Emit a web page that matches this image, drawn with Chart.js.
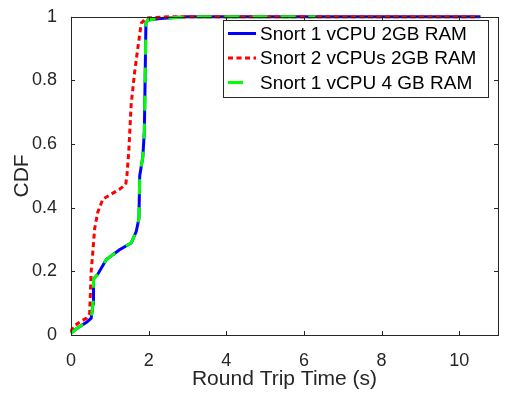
<!DOCTYPE html>
<html>
<head>
<meta charset="utf-8">
<script src="https://cdn.jsdelivr.net/npm/chart.js@4.4.0/dist/chart.umd.min.js"></script>
<style>
  html, body { margin: 0; padding: 0; background: #fff; }
  #wrap { width: 508px; height: 395px; }
</style>
</head>
<body>
<div id="wrap"><canvas id="chart" width="508" height="395"></canvas></div>
<script>
// valores (CDF do round trip time)
const blueX = [0, 0.14, 0.4, 0.52, 0.57, 0.58, 0.69, 0.91, 1.25, 1.55, 1.68, 1.75, 1.77, 1.85, 1.89, 1.93, 1.98, 2.3, 3, 10.55];
const blueY = [0.005, 0.02, 0.04, 0.053, 0.1, 0.176, 0.191, 0.237, 0.268, 0.289, 0.325, 0.366, 0.5, 0.56, 0.64, 0.98, 0.99, 0.995, 1, 1];

const redX = [0, 0.05, 0.22, 0.4, 0.48, 0.52, 0.55, 0.61, 0.69, 0.82, 1.04, 1.25, 1.41, 1.44, 1.49, 1.55, 1.64, 1.72, 1.81, 1.94, 2.5, 10.5];
const redY = [0.01, 0.025, 0.04, 0.053, 0.068, 0.2, 0.243, 0.335, 0.386, 0.427, 0.443, 0.458, 0.473, 0.5, 0.58, 0.725, 0.827, 0.9, 0.98, 0.996, 1, 1];

const greenX = [0, 0.14, 0.4, 0.52, 0.57, 0.58, 0.69, 0.91, 1.25, 1.55, 1.68, 1.75, 1.77, 1.85, 1.89, 1.93, 1.98, 2.3, 3, 6.3];
const greenY = [0.005, 0.02, 0.04, 0.053, 0.1, 0.176, 0.191, 0.237, 0.268, 0.289, 0.325, 0.366, 0.5, 0.56, 0.64, 0.98, 0.99, 0.995, 1, 1];

const labels = ["Snort 1 vCPU 2GB RAM", "Snort 2 vCPUs 2GB RAM", "Snort 1 vCPU 4 GB RAM"];
const xTicks = [0, 2, 4, 6, 8, 10];
const yTicks = [0, 0.2, 0.4, 0.6, 0.8, 1];

const axisColor = '#262626';
const fontFamily = '"Liberation Sans", Arial, sans-serif';

function toPoints(xs, ys) {
    return xs.map((x, i) => ({ x: x, y: ys[i] }));
}

// ticks para dentro, nos quatro lados (estilo matlab)
const innerTicks = {
    id: 'innerTicks',
    afterDraw(c) {
        const ctx = c.ctx;
        const a = c.chartArea;
        const xs = c.scales.x, ys = c.scales.y;
        const len = 4;
        ctx.save();
        ctx.strokeStyle = axisColor;
        ctx.lineWidth = 1;
        ctx.beginPath();
        xTicks.forEach(v => {
            const px = Math.round(xs.getPixelForValue(v)) + 0.5;
            ctx.moveTo(px, a.bottom); ctx.lineTo(px, a.bottom - len);
            ctx.moveTo(px, a.top); ctx.lineTo(px, a.top + len);
        });
        yTicks.forEach(v => {
            const py = Math.round(ys.getPixelForValue(v)) + 0.5;
            ctx.moveTo(a.left, py); ctx.lineTo(a.left + len, py);
            ctx.moveTo(a.right, py); ctx.lineTo(a.right - len, py);
        });
        ctx.stroke();
        ctx.strokeRect(Math.round(a.left) + 0.5, Math.round(a.top) + 0.5, Math.round(a.right - a.left), Math.round(a.bottom - a.top));
        ctx.restore();
    }
};

// legenda dentro do gráfico, com caixa
const boxLegend = {
    id: 'boxLegend',
    afterDraw(c) {
        const ctx = c.ctx;
        const bx = 223.5, by = 20.5, bw = 265, bh = 77;
        ctx.save();
        ctx.fillStyle = '#fff';
        ctx.fillRect(bx, by, bw, bh);
        ctx.strokeStyle = axisColor;
        ctx.lineWidth = 1;
        ctx.strokeRect(bx, by, bw, bh);
        ctx.font = '19px ' + fontFamily;
        ctx.textBaseline = 'middle';
        c.data.datasets.forEach((ds, i) => {
            const y = 33.5 + i * 24.5;
            ctx.strokeStyle = ds.borderColor;
            ctx.lineWidth = ds.borderWidth;
            ctx.setLineDash(ds.borderDash || []);
            ctx.beginPath();
            ctx.moveTo(228, y);
            ctx.lineTo(256, y);
            ctx.stroke();
            ctx.setLineDash([]);
            ctx.fillStyle = '#000';
            ctx.fillText(ds.label, 260, y + 1);
        });
        ctx.restore();
    }
};

const ctx = document.getElementById('chart').getContext('2d');
const chart = new Chart(ctx, {
    type: 'line',
    data: {
        datasets: [{
            label: labels[0],
            data: toPoints(blueX, blueY),
            borderColor: '#0000ff',
            borderWidth: 3,
            order: 2,
            clip: false
        }, {
            label: labels[1],
            data: toPoints(redX, redY),
            borderColor: '#ff0000',
            borderWidth: 3,
            borderDash: [5, 3.5],
            order: 1,
            clip: false
        }, {
            label: labels[2],
            data: toPoints(greenX, greenY),
            borderColor: '#00ff00',
            borderWidth: 3,
            borderDash: [15, 13],
            order: 0,
            clip: false
        }]
    },
    options: {
        responsive: false,
        animation: false,
        elements: {
            line: { tension: 0 },
            point: { radius: 0 }
        },
        layout: { padding: { top: 10, right: 10, left: 0, bottom: 0 } },
        plugins: {
            legend: { display: false },
            tooltip: { enabled: false }
        },
        scales: {
            x: {
                type: 'linear',
                min: 0,
                max: 11,
                afterBuildTicks: s => { s.ticks = xTicks.map(v => ({ value: v })); },
                afterFit: s => { s.height = 60; },
                grid: { display: false },
                border: { display: false },
                ticks: {
                    color: axisColor,
                    padding: 7,
                    maxRotation: 0,
                    font: { family: fontFamily, size: 18 }
                },
                title: {
                    display: true,
                    text: 'Round Trip Time (s)',
                    color: axisColor,
                    padding: 3,
                    font: { family: fontFamily, size: 21 }
                }
            },
            y: {
                type: 'linear',
                min: 0,
                max: 1,
                afterBuildTicks: s => { s.ticks = yTicks.map(v => ({ value: v })); },
                afterFit: s => { s.width = 71; },
                grid: { display: false },
                border: { display: false },
                ticks: {
                    color: axisColor,
                    padding: 6,
                    font: { family: fontFamily, size: 18 },
                    callback: v => String(v)
                },
                title: {
                    display: true,
                    text: 'CDF',
                    color: axisColor,
                    padding: 10,
                    font: { family: fontFamily, size: 21 }
                }
            }
        }
    },
    plugins: [innerTicks, boxLegend]
});
</script>
</body>
</html>
